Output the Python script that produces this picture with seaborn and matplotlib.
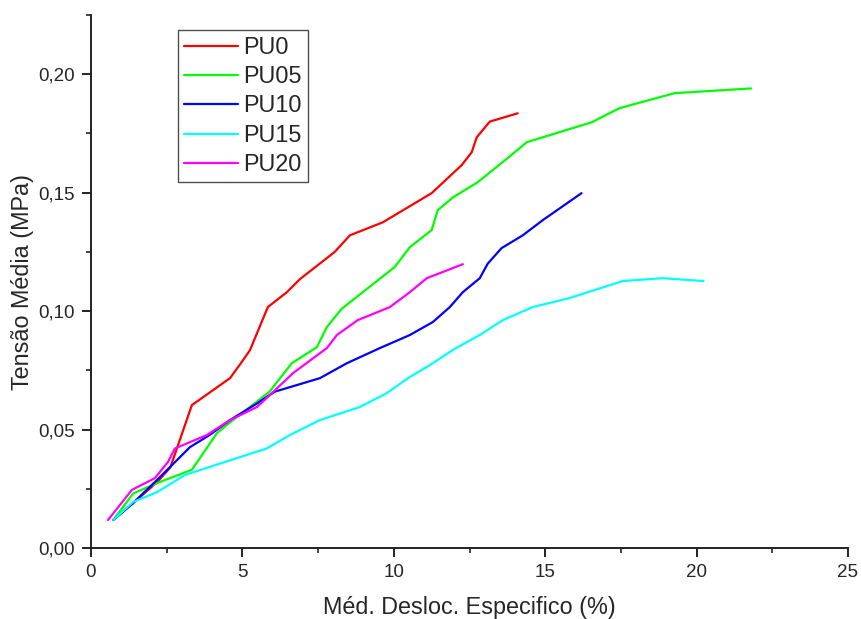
import numpy as np
import pandas as pd
import matplotlib
matplotlib.use("Agg")
import matplotlib.pyplot as plt
from matplotlib.ticker import FuncFormatter, MultipleLocator
import seaborn as sns

# ---- data ----
pu0_x = [0.75, 1.4, 2.2, 2.62, 3.33, 4.59, 4.95, 5.25, 5.84, 6.47, 6.9, 8.05, 8.55, 9.64, 11.25, 12.24, 12.57, 12.74, 13.17, 14.09]
pu0_y = [0.012, 0.019, 0.028, 0.034, 0.0603, 0.0717, 0.078, 0.0835, 0.1017, 0.108, 0.1135, 0.125, 0.132, 0.1375, 0.1498, 0.1616, 0.167, 0.1734, 0.180, 0.1835]

pu05_x = [0.73, 1.39, 2.18, 3.33, 4.16, 4.59, 5.9, 6.63, 7.46, 7.79, 8.28, 10.03, 10.53, 11.25, 11.45, 11.95, 12.77, 13.76, 14.39, 16.53, 17.46, 19.27, 21.8]
pu05_y = [0.0118, 0.023, 0.0274, 0.033, 0.0485, 0.053, 0.066, 0.078, 0.0848, 0.0933, 0.101, 0.1186, 0.127, 0.1342, 0.1426, 0.148, 0.1544, 0.1646, 0.1713, 0.1797, 0.1857, 0.192, 0.194]

pu10_x = [0.75, 1.39, 2.18, 3.27, 3.93, 4.59, 5.48, 6.07, 7.56, 8.45, 9.54, 10.53, 11.29, 11.85, 12.28, 12.84, 13.1, 13.56, 14.26, 14.92, 16.2]
pu10_y = [0.012, 0.019, 0.0287, 0.0426, 0.0478, 0.054, 0.061, 0.066, 0.0717, 0.078, 0.0844, 0.0899, 0.0954, 0.1017, 0.108, 0.1139, 0.120, 0.1266, 0.132, 0.1384, 0.1498]

pu15_x = [0.75, 1.39, 2.18, 3.1, 4.59, 5.8, 6.57, 7.56, 8.88, 9.77, 10.53, 11.19, 12.0, 12.84, 13.6, 14.59, 15.8, 17.56, 18.88, 20.23]
pu15_y = [0.012, 0.0194, 0.0236, 0.0308, 0.037, 0.042, 0.0477, 0.054, 0.0595, 0.0654, 0.0722, 0.0772, 0.084, 0.0899, 0.0962, 0.1017, 0.1055, 0.1127, 0.1139, 0.1127]

pu20_x = [0.56, 1.35, 2.11, 2.54, 2.77, 3.27, 3.83, 4.59, 5.48, 5.9, 6.67, 7.79, 8.12, 8.81, 9.87, 10.53, 11.09, 12.28]
pu20_y = [0.0118, 0.0245, 0.0295, 0.0363, 0.042, 0.0447, 0.0477, 0.054, 0.0595, 0.0645, 0.0738, 0.0844, 0.0899, 0.0962, 0.1017, 0.108, 0.1139, 0.1198]

series_names = ["PU0", "PU05", "PU10", "PU15", "PU20"]
series_colors = ["#FF0000", "#00FF00", "#0000FF", "#00FFFF", "#FF00FF"]
x_ticks = [0, 5, 10, 15, 20, 25]
y_ticks = [0.00, 0.05, 0.10, 0.15, 0.20]

xs = [pu0_x, pu05_x, pu10_x, pu15_x, pu20_x]
ys = [pu0_y, pu05_y, pu10_y, pu15_y, pu20_y]
frames = []
for name, x, y in zip(series_names, xs, ys):
    frames.append(pd.DataFrame({"x": x, "y": y, "serie": name, "order": np.arange(len(x))}))
df = pd.concat(frames, ignore_index=True)

sns.set_theme(style="ticks")
plt.rcParams["font.family"] = ["Liberation Sans", "DejaVu Sans"]
plt.rcParams["axes.linewidth"] = 1.4
plt.rcParams["xtick.major.width"] = 1.4
plt.rcParams["ytick.major.width"] = 1.4
plt.rcParams["xtick.minor.width"] = 1.2
plt.rcParams["ytick.minor.width"] = 1.2
plt.rcParams["axes.edgecolor"] = "#222222"

fig = plt.figure(figsize=(8.61, 6.19), dpi=100)
ax = fig.add_axes([91/861, 1 - 548/619, (848-91)/861, (548-15)/619])

sns.lineplot(data=df, x="x", y="y", hue="serie", hue_order=series_names,
             palette=series_colors, estimator=None, sort=False, units="serie",
             linewidth=1.6, ax=ax)

ax.set_xlim(0, 25)
ax.set_ylim(0, 0.225)
ax.set_xticks(x_ticks)
ax.set_yticks(y_ticks)
ax.xaxis.set_minor_locator(MultipleLocator(2.5))
ax.yaxis.set_minor_locator(MultipleLocator(0.025))
ax.yaxis.set_major_formatter(FuncFormatter(lambda v, p: f"{v:.2f}".replace(".", ",")))
ax.xaxis.set_major_formatter(FuncFormatter(lambda v, p: f"{v:g}"))
ax.tick_params(axis="both", which="major", length=6.5, labelsize=13.5, direction="out", color="#222222", pad=5)
ax.tick_params(axis="both", which="minor", length=3.5, direction="out", color="#222222")
for s in ["top", "right"]:
    ax.spines[s].set_visible(False)

ax.set_xlabel("Méd. Desloc. Especifico (%)", fontsize=16.8, labelpad=11)
ax.set_ylabel("Tensão Média (MPa)", fontsize=16.8, labelpad=3)

leg = ax.legend(loc="upper left", bbox_to_anchor=((178-91)/757, (548-30)/533),
                borderaxespad=0, fontsize=16.8, frameon=True, fancybox=False,
                handlelength=2.3, handletextpad=0.25, labelspacing=0.27,
                borderpad=0.25, title=None)
leg.get_frame().set_edgecolor("#222222")
leg.get_frame().set_linewidth(1.0)
for line in leg.get_lines():
    line.set_linewidth(1.6)

fig.savefig("out.png", dpi=100)
